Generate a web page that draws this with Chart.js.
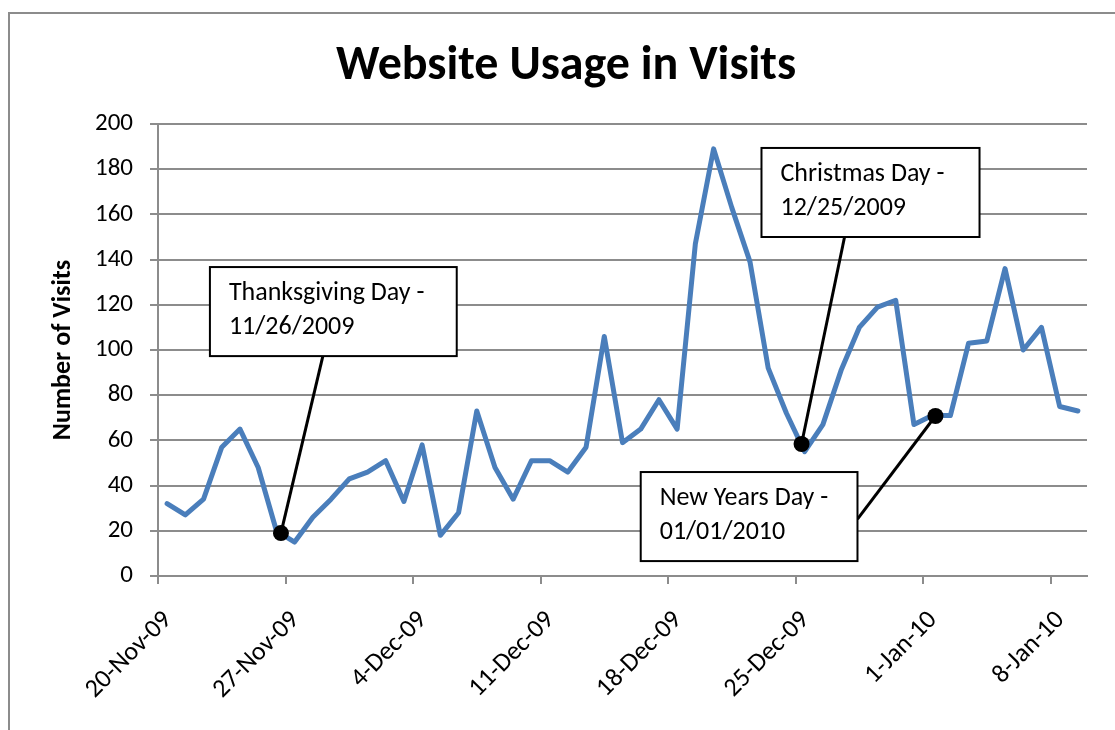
<!DOCTYPE html>
<html>
<head>
<meta charset="utf-8">
<title>Website Usage in Visits</title>
<script src="https://cdn.jsdelivr.net/npm/chart.js@4.4.1/dist/chart.umd.min.js"></script>
<style>
  html, body { margin: 0; padding: 0; background: #fff; }
</style>
</head>
<body>
<canvas id="visitsChart" width="1115" height="730"></canvas>
<script>
const FONT = "Calibri, Carlito, Lato, sans-serif";

// one value per day, starting 20-Nov-09 and ending 9-Jan-10
const visits = [
  32, 27, 34, 57, 65, 48, 20, 15, 26, 34,
  43, 46, 51, 33, 58, 18, 28, 73, 48, 34,
  51, 51, 46, 57, 106, 59, 65, 78, 65, 147,
  189, 163, 139, 92, 72, 55, 67, 91, 110, 119,
  122, 67, 71, 71, 103, 104, 136, 100, 110, 75,
  73
];

// weekly tick labels along the date axis
const weekLabels = ['20-Nov-09', '27-Nov-09', '4-Dec-09', '11-Dec-09',
                    '18-Dec-09', '25-Dec-09', '1-Jan-10', '8-Jan-10'];
const DAYS_PER_TICK = 7;
const TOTAL_DAYS = 51;

// holiday callouts: text, dot (day, visits), box corners and leader start, in axis units
const calloutText = [
  ['Thanksgiving Day -', '11/26/2009'],
  ['Christmas Day -', '12/25/2009'],
  ['New Years Day -', '01/01/2010']
];
const calloutDot = [[6.75, 19], [35.33, 58.4], [42.68, 70.8]];
const calloutBox = [[2.85, 136.7, 16.4, 97.3], [33.13, 189.4, 45.1, 150], [26.5, 46, 38.4, 6.6]];
const calloutLeader = [[9.05, 97.3], [37.69, 150], [38.4, 25.2]];

const GRID = '#8c8c8c';

// each day's value sits in the middle of its day slot
const points = visits.map((v, i) => ({ x: i + 0.5, y: v }));

const frameAndTitle = {
  id: 'frameAndTitle',
  beforeDraw(chart) {
    const ctx = chart.ctx;
    ctx.save();
    ctx.fillStyle = '#fff';
    ctx.fillRect(0, 0, chart.width, chart.height);
    ctx.strokeStyle = GRID;
    ctx.lineWidth = 2;
    ctx.strokeRect(9, 13, chart.width + 50, chart.height + 50);
    ctx.fillStyle = '#000';
    ctx.font = 'bold 48px ' + FONT;
    ctx.textAlign = 'center';
    ctx.textBaseline = 'alphabetic';
    ctx.fillText('Website Usage in Visits', 566, 79);
    ctx.restore();
  }
};

const callouts = {
  id: 'callouts',
  afterDatasetsDraw(chart) {
    const { ctx, scales: { x, y } } = chart;
    ctx.save();
    calloutText.forEach((lines, i) => {
      const dx = x.getPixelForValue(calloutDot[i][0]);
      const dy = y.getPixelForValue(calloutDot[i][1]);
      const [b0, b1, b2, b3] = calloutBox[i];
      const left = x.getPixelForValue(b0), top = y.getPixelForValue(b1);
      const right = x.getPixelForValue(b2), bottom = y.getPixelForValue(b3);
      const lx = x.getPixelForValue(calloutLeader[i][0]);
      const ly = y.getPixelForValue(calloutLeader[i][1]);

      ctx.strokeStyle = '#000';
      ctx.lineWidth = 3;
      ctx.beginPath();
      ctx.moveTo(lx, ly);
      ctx.lineTo(dx, dy);
      ctx.stroke();

      ctx.fillStyle = '#fff';
      ctx.fillRect(left, top, right - left, bottom - top);
      ctx.lineWidth = 2;
      ctx.strokeRect(left, top, right - left, bottom - top);

      ctx.fillStyle = '#000';
      ctx.font = '26px ' + FONT;
      ctx.textAlign = 'left';
      ctx.textBaseline = 'alphabetic';
      lines.forEach((t, k) => ctx.fillText(t, left + 19, top + 33 + k * 34));

      ctx.beginPath();
      ctx.arc(dx, dy, 8, 0, Math.PI * 2);
      ctx.fill();
    });
    ctx.restore();
  }
};

new Chart(document.getElementById('visitsChart'), {
  type: 'line',
  data: {
    datasets: [{
      data: points,
      borderColor: '#4a7ebb',
      borderWidth: 5,
      borderJoinStyle: 'round',
      borderCapStyle: 'round',
      pointRadius: 0,
      tension: 0,
      fill: false
    }]
  },
  options: {
    responsive: false,
    animation: false,
    layout: { padding: { top: 124, right: 28, left: 46, bottom: 0 } },
    plugins: {
      legend: { display: false },
      title: { display: false },
      tooltip: { enabled: false }
    },
    scales: {
      x: {
        type: 'linear',
        min: 0,
        max: TOTAL_DAYS,
        afterBuildTicks(scale) {
          scale.ticks = weekLabels.map((_, i) => ({ value: i * DAYS_PER_TICK }));
        },
        afterFit(scale) { scale.height = 154; },
        ticks: {
          autoSkip: false,
          minRotation: 45,
          maxRotation: 45,
          padding: 21,
          labelOffset: 10,
          color: '#000',
          font: { family: FONT, size: 26 },
          callback: v => weekLabels[Math.round(v / DAYS_PER_TICK)]
        },
        grid: { drawOnChartArea: false, drawTicks: true, tickLength: 8, color: GRID, lineWidth: 2 },
        border: { display: true, color: GRID, width: 2 }
      },
      y: {
        min: 0,
        max: 200,
        afterFit(scale) { scale.width = 112; },
        ticks: {
          stepSize: 20,
          padding: 17,
          color: '#000',
          font: { family: FONT, size: 25 }
        },
        grid: { color: GRID, lineWidth: 2, tickLength: 8 },
        border: { display: true, color: GRID, width: 2 },
        title: {
          display: true,
          text: 'Number of Visits',
          color: '#000',
          font: { family: FONT, size: 26, weight: 'bold' },
          padding: { top: 2, bottom: 4 }
        }
      }
    }
  },
  plugins: [frameAndTitle, callouts]
});
</script>
</body>
</html>
